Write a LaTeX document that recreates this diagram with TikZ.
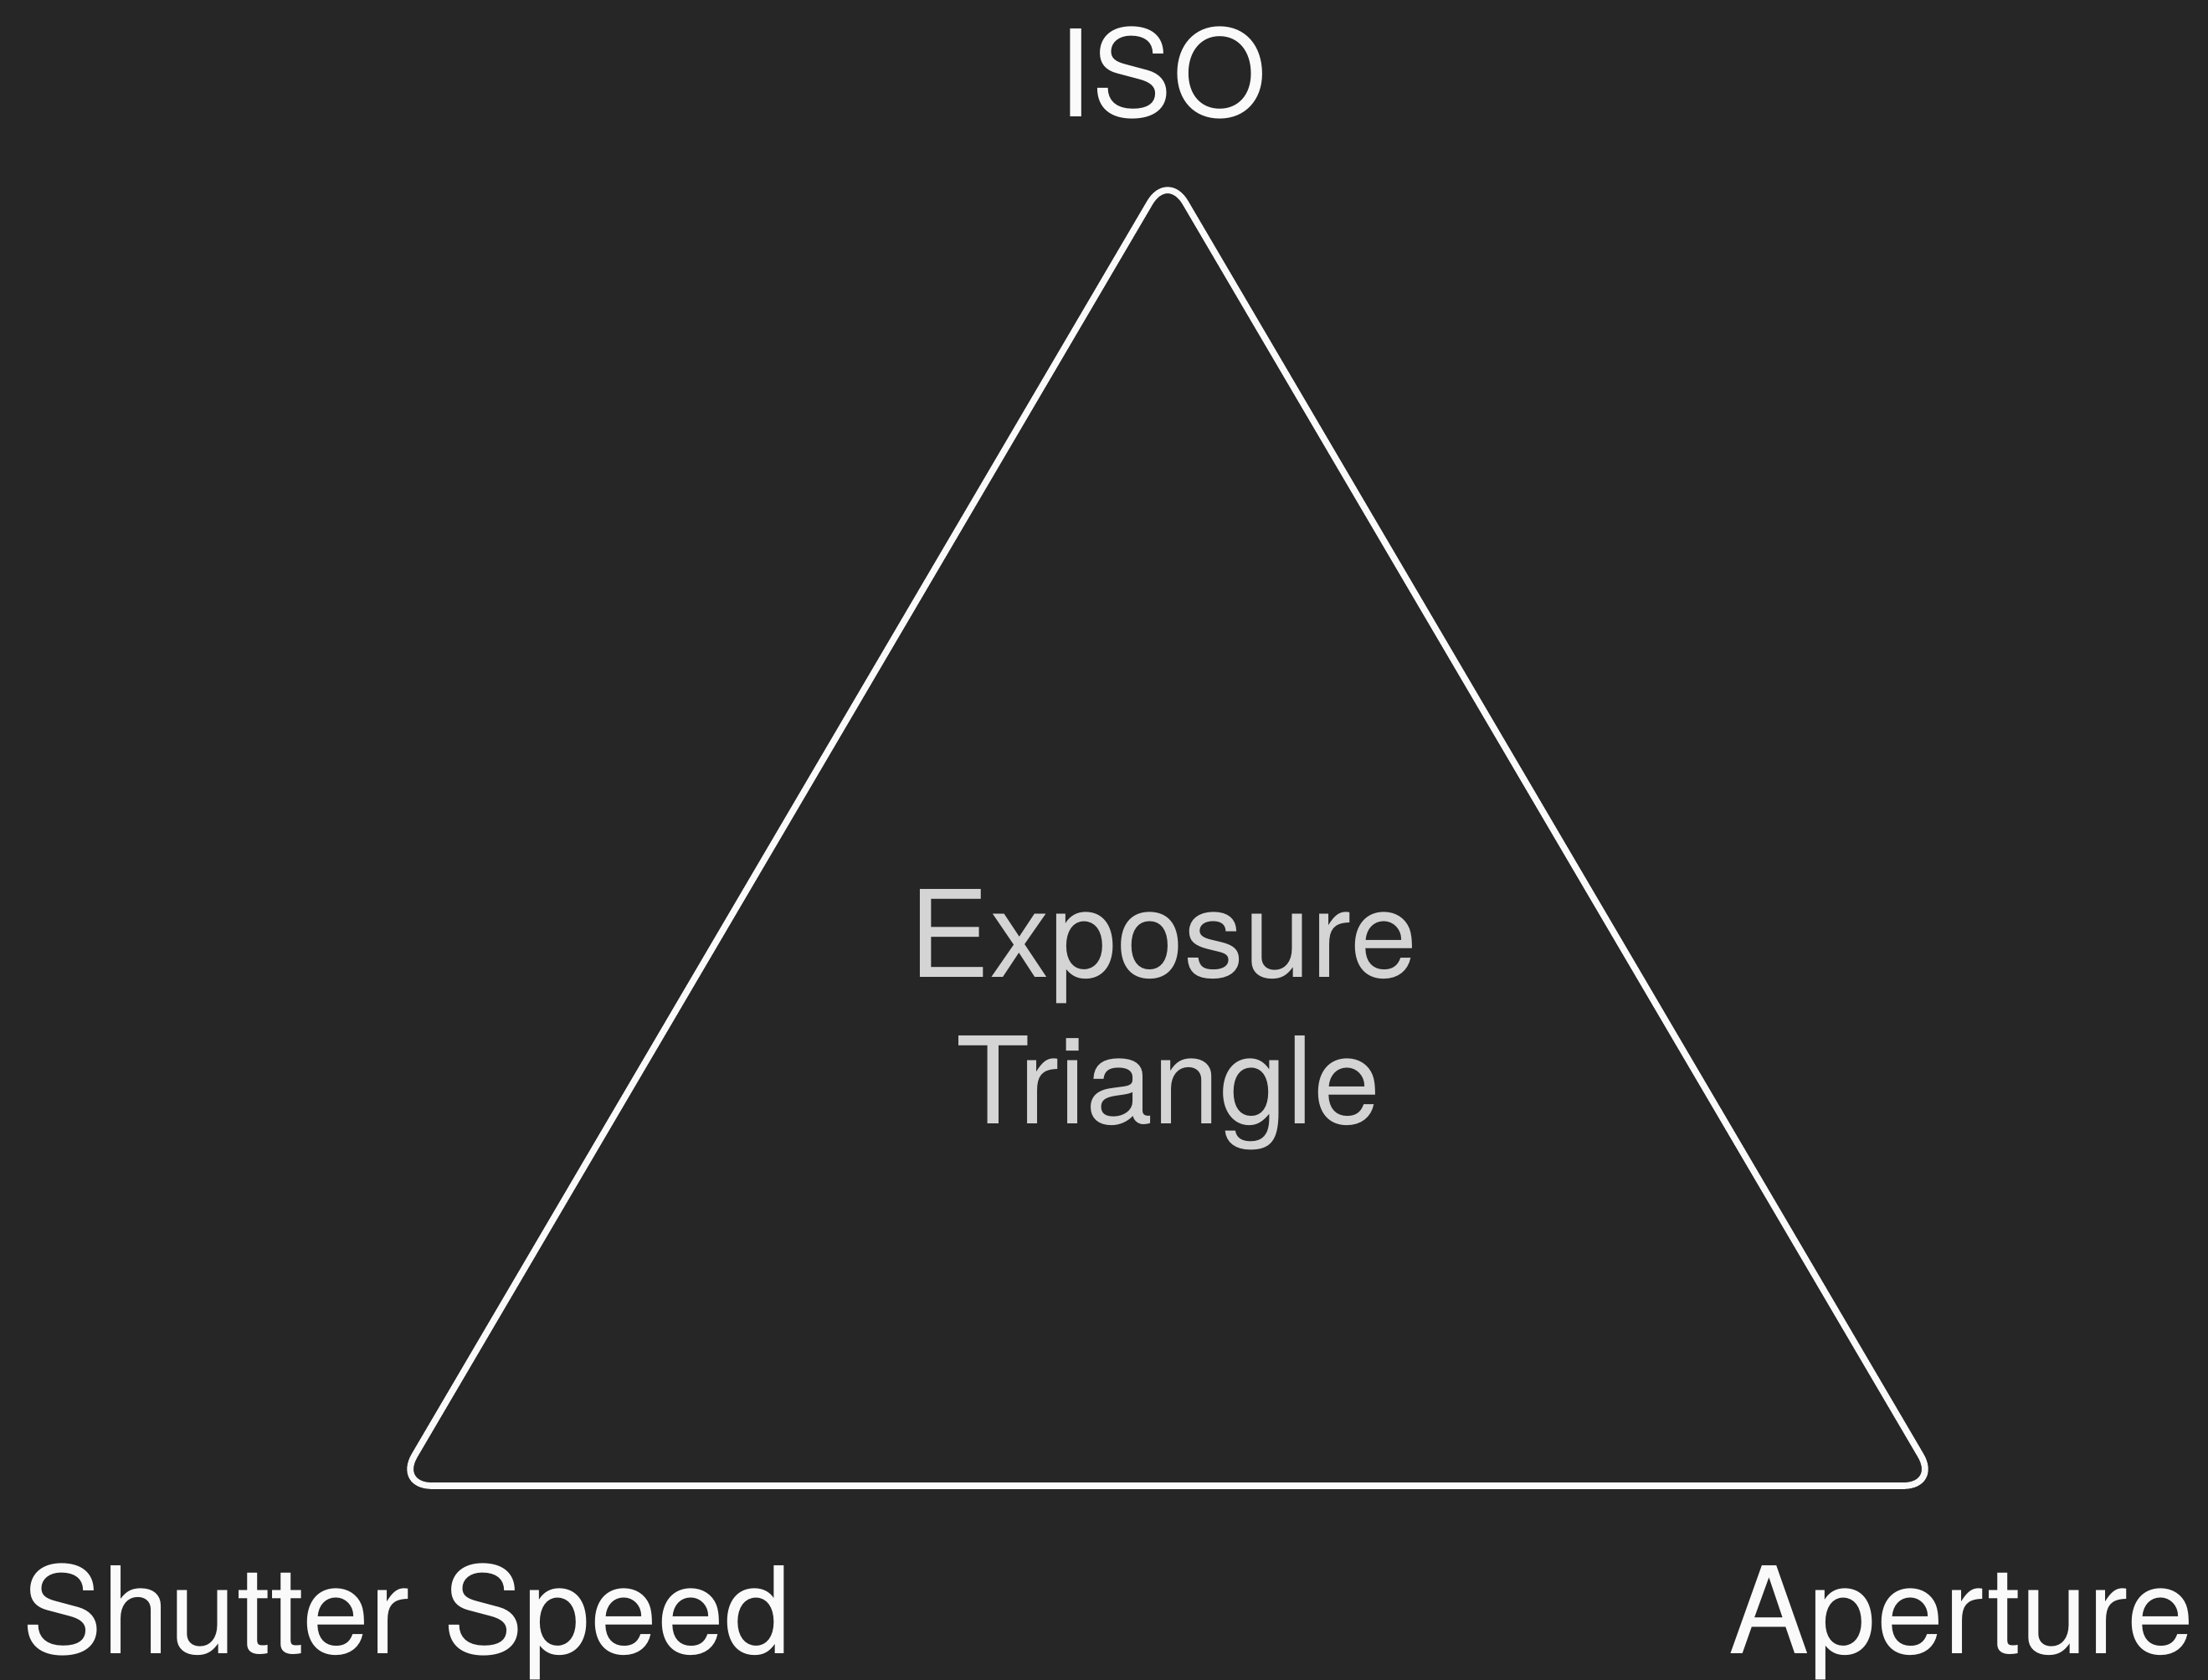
\documentclass[tikz,border=0pt]{standalone}
\usepackage{fontspec}
\setmainfont{TeX Gyre Heros}
\usepackage{tikz}
\definecolor{bg}{RGB}{38,38,38}
\definecolor{lbl}{RGB}{250,250,250}
\definecolor{mid}{RGB}{212,212,212}

\begin{document}
\begin{tikzpicture}[label/.style={text=lbl,inner sep=0pt,font=\fontsize{41}{49}\selectfont},
    center/.style={text=mid,inner sep=0pt,anchor=base,font=\fontsize{41}{49}\selectfont}]
    \fill[bg] (0,0) rectangle (26.38,20.07);
    \useasboundingbox (0,0) rectangle (26.38,20.07);
    \coordinate (iso) at (13.95,18.01);
    \coordinate (ss) at (4.74,2.32);
    \coordinate (ap) at (23.16,2.32);
    \draw[lbl,line width=2.2pt,rounded corners=0.42cm] (ss) -- (iso) -- (ap) -- cycle;
    \node[label,anchor=base] (isolabel) at (13.89,18.67) {ISO};
    \node[label,anchor=base west] (sslabel) at (0.26,0.31) {Shutter Speed};
    \node[label,anchor=base east] (aplabel) at (26.22,0.31) {Aperture};
    \node[center] (expo) at (13.90,8.39) {Exposure};
    \node[center] (tri) at (13.96,6.64) {Triangle};
\end{tikzpicture}
\end{document}
